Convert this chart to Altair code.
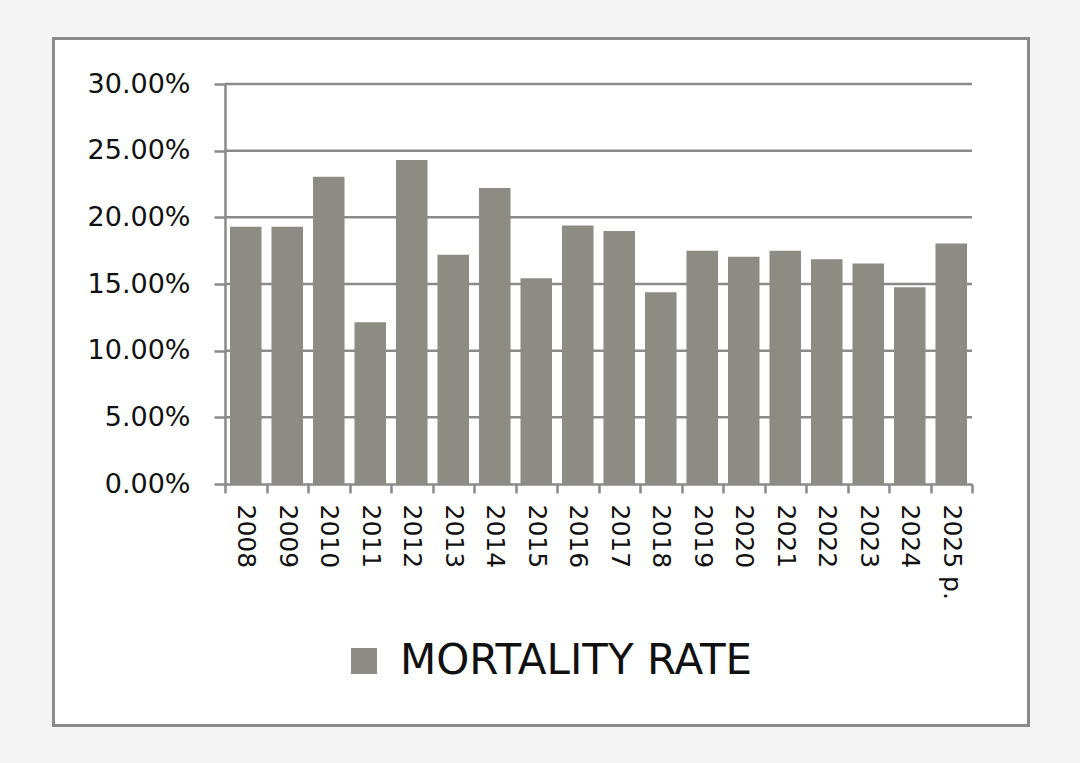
import altair as alt
import pandas as pd

years = ["2008", "2009", "2010", "2011", "2012", "2013", "2014", "2015", "2016",
         "2017", "2018", "2019", "2020", "2021", "2022", "2023", "2024", "2025 p."]
rates = [0.193, 0.193, 0.2305, 0.1213, 0.243, 0.172, 0.222, 0.1543, 0.1938,
         0.1898, 0.1438, 0.175, 0.1705, 0.175, 0.1685, 0.1653, 0.1475, 0.1803]
series_name = "MORTALITY RATE"
y_ticks = [0.0, 0.05, 0.10, 0.15, 0.20, 0.25, 0.30]

BAR = "#8c8b84"
LINE = "#8a8a8a"
FONT = "DejaVu Sans"
W, H = 747, 400

df = pd.DataFrame({"year": years, "rate": rates, "series": [series_name] * len(years)})
grid_df = pd.DataFrame({"v": y_ticks[1:]})

# white panel with grey frame (decoration behind everything)
panel = alt.Chart(pd.DataFrame({"a": [0]})).mark_rect(
    fill="white", stroke=LINE, strokeWidth=3
).encode(
    x=alt.value(-171.5), x2=alt.value(803.5),
    y=alt.value(-45.5), y2=alt.value(641.5),
)

grid = alt.Chart(grid_df).mark_rule(color=LINE, strokeWidth=2.5).encode(
    y=alt.Y("v:Q", scale=alt.Scale(domain=[0, 0.30], nice=False)),
    x=alt.value(0), x2=alt.value(W),
)

bars = alt.Chart(df).mark_bar(width=alt.RelativeBandSize(0.76)).encode(
    x=alt.X("year:N", sort=years, title=None,
            scale=alt.Scale(paddingInner=0, paddingOuter=0),
            axis=alt.Axis(labelAngle=90, labelFontSize=25, labelFont=FONT,
                          labelColor="#111111", labelPadding=11,
                          tickBand="extent", tickSize=9, tickWidth=2.5,
                          tickColor=LINE, domainColor=LINE, domainWidth=2.5,
                          grid=False, zindex=1)),
    y=alt.Y("rate:Q", title=None,
            scale=alt.Scale(domain=[0, 0.30], nice=False),
            axis=alt.Axis(values=y_ticks, format=".2%", labelFontSize=27,
                          labelFont=FONT, labelColor="#111111", labelPadding=24,
                          tickSize=11, tickWidth=2.5, tickColor=LINE,
                          domainColor=LINE, domainWidth=2.5, grid=False, zindex=1)),
    color=alt.Color("series:N", title=None,
                    scale=alt.Scale(range=[BAR]),
                    legend=alt.Legend(orient="none", legendX=118, legendY=556,
                                      symbolType="square", symbolSize=676,
                                      symbolStrokeWidth=0, labelFontSize=42,
                                      labelFont=FONT, labelColor="#111111",
                                      labelOffset=15, padding=0, labelLimit=600)),
)

chart = alt.layer(panel, grid, bars).properties(
    width=W, height=H,
    autosize=alt.AutoSizeParams(type="none"),
    padding={"left": 225, "top": 84, "right": 108, "bottom": 279},
    background="#f4f4f4",
).configure_view(stroke=None)

chart.save("out.html", embed_options={"renderer": "svg", "actions": False})
